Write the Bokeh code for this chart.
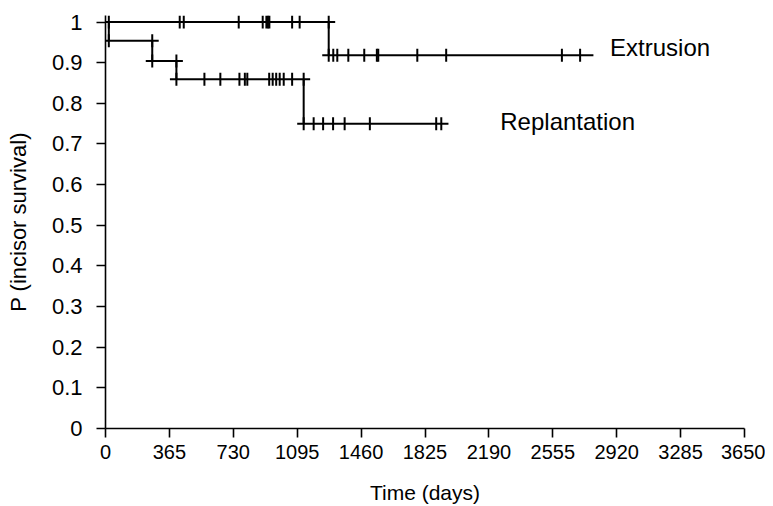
import math
from bokeh.plotting import figure
from bokeh.models import Range1d, FixedTicker, ColumnDataSource
from bokeh.core.properties import value
from bokeh.embed import file_html
from bokeh.resources import INLINE

# ---------------- data ----------------
x_ticks = [0, 365, 730, 1095, 1460, 1825, 2190, 2555, 2920, 3285, 3650]
y_ticks = [0, 0.1, 0.2, 0.3, 0.4, 0.5, 0.6, 0.7, 0.8, 0.9, 1.0]
y_tick_labels = ["0", "0.1", "0.2", "0.3", "0.4", "0.5", "0.6", "0.7", "0.8", "0.9", "1"]

series_names = ["Extrusion", "Replantation"]

ext_step_days = [0, 1275]
ext_step_surv = [1.0, 0.918]
ext_censored = [424, 447, 761, 898, 919, 928, 936, 1066, 1109,
                1301, 1324, 1387, 1478, 1550, 1558, 1781, 1946, 2607, 2711]
ext_last_day = 2750

rep_step_days = [0, 19, 267, 405, 1132]
rep_step_surv = [1.0, 0.954, 0.904, 0.859, 0.750]
rep_censored = [565, 656, 765, 796, 810, 935, 955, 975, 995, 1018, 1066,
                1189, 1243, 1300, 1366, 1510, 1889, 1918]
rep_last_day = 1922

label_x = [2882, 2255]
label_y = [0.937, 0.756]

# ---------------- styling ----------------
FONT = "Liberation Sans"
OVER = 37  # days the step segments overshoot their ends

p = figure(width=765, height=506, output_backend="svg", toolbar_location=None,
           x_range=Range1d(0, 3650), y_range=Range1d(0, 1.016),
           min_border_left=105, min_border_right=21, min_border_top=15,
           min_border_bottom=77)
p.outline_line_color = None
p.xgrid.visible = False
p.ygrid.visible = False
p.background_fill_color = "white"
p.border_fill_color = "white"

for ax in (p.xaxis[0], p.yaxis[0]):
    ax.axis_line_width = 1.6
    ax.major_tick_line_width = 1.6
    ax.major_tick_out = 9
    ax.major_tick_in = 0
    ax.minor_tick_line_color = None
    ax.axis_label_text_font_style = "normal"
    ax.axis_label_text_color = "black"
    ax.major_label_text_color = "black"
    ax.axis_line_color = "black"
    ax.major_tick_line_color = "black"
    ax.major_label_text_font = FONT
    ax.axis_label_text_font = FONT

p.xaxis.ticker = FixedTicker(ticks=x_ticks)
p.yaxis.ticker = FixedTicker(ticks=y_ticks)
p.yaxis.major_label_overrides = {t: l for t, l in zip(y_ticks, y_tick_labels)}
p.xaxis.major_label_text_font_size = "20px"
p.yaxis.major_label_text_font_size = "22px"
p.xaxis.major_label_standoff = 7
p.yaxis.major_label_standoff = 14
p.xaxis.axis_label = "Time (days)"
p.yaxis.axis_label = "P (incisor survival)"
p.xaxis.axis_label_text_font_size = "21px"
p.yaxis.axis_label_text_font_size = "22px"
p.xaxis.axis_label_standoff = 19
p.yaxis.axis_label_standoff = 18


def km_pieces(days, surv, last_day, censored):
    hx0, hx1, hy = [], [], []
    vx, vy0, vy1 = [], [], []
    tx, ty = [], []
    n = len(days)
    for i in range(n):
        end = days[i + 1] if i + 1 < n else last_day
        hx0.append(days[i] - OVER)
        hx1.append(end + OVER)
        hy.append(surv[i])
        if i + 1 < n:
            vx.append(days[i + 1])
            vy0.append(surv[i])
            vy1.append(surv[i + 1])
            tx += [days[i + 1], days[i + 1]]
            ty += [surv[i], surv[i + 1]]
    for c in censored:
        lvl = surv[0]
        for d, s in zip(days, surv):
            if c >= d:
                lvl = s
        tx.append(c)
        ty.append(lvl)
    return hx0, hx1, hy, vx, vy0, vy1, tx, ty


for days, surv, last, cens in ((ext_step_days, ext_step_surv, ext_last_day, ext_censored),
                               (rep_step_days, rep_step_surv, rep_last_day, rep_censored)):
    hx0, hx1, hy, vx, vy0, vy1, tx, ty = km_pieces(days, surv, last, cens)
    p.segment(x0=hx0, x1=hx1, y0=hy, y1=hy, line_color="black", line_width=2)
    p.segment(x0=vx, x1=vx, y0=vy0, y1=vy1, line_color="black", line_width=2)
    p.scatter(x=tx, y=ty, marker="dash", angle=math.pi / 2, size=13,
              line_color="black", line_width=2)

src = ColumnDataSource(dict(x=label_x, y=label_y, t=series_names))
p.text(x="x", y="y", text="t", source=src, text_font=value(FONT),
       text_font_size="24px", text_align="left", text_baseline="middle",
       text_color="black")

open("out.html", "w").write(file_html(p, INLINE))
